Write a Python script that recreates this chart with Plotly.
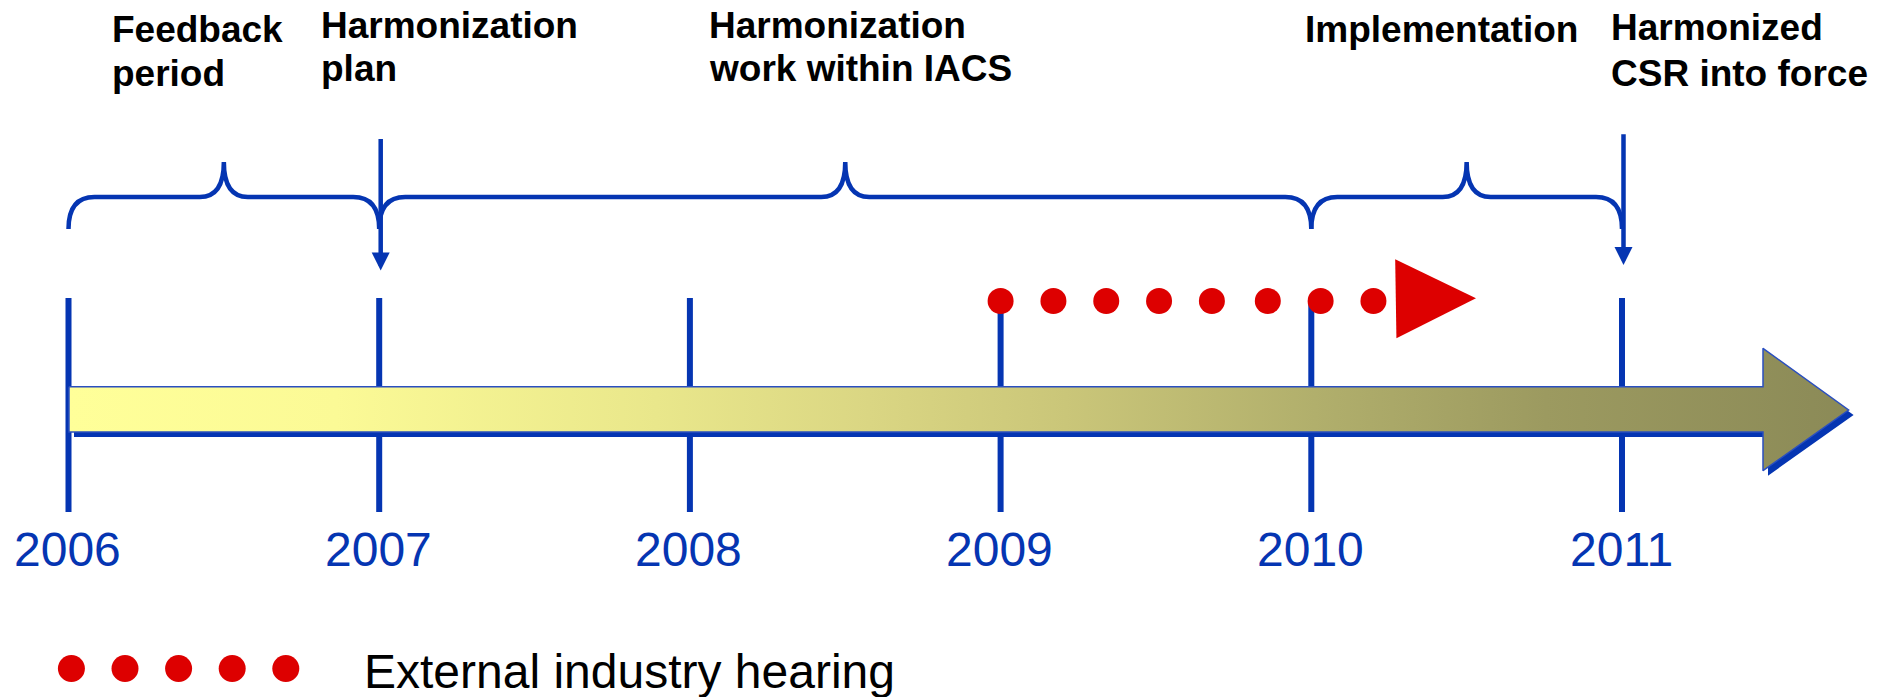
import plotly.graph_objects as go

# ---------------- data ----------------
years = [2006, 2007, 2008, 2009, 2010, 2011]
year_labels = ["2006", "2007", "2008", "2009", "2010", "2011"]

phase_start = [2006, 2007, 2010]
phase_end = [2007, 2010, 2011]

milestones = [2007, 2011]

hearing_x = [2009.00, 2009.17, 2009.34, 2009.51, 2009.68, 2009.86, 2010.03, 2010.20]
hearing_arrow_x = [2010.27, 2010.53]

legend_label = "External industry hearing"

heading_lines = ["Feedback", "period",
                 "Harmonization", "plan",
                 "Harmonization", "work within IACS",
                 "Implementation",
                 "Harmonized", "CSR into force"]

# ---------------- layout constants ----------------
W, H = 1885, 697
OFF = 8           # page body margin that shifts the figure
X2006 = 68.5      # screen pixel x of year 2006
PPY = 310.7       # pixels per year


def px2yr(px):
    return 2006 + (px - X2006) / PPY


BLUE = "#0535b2"
RED = "#dd0000"
FONT = "Liberation Sans, Arial, sans-serif"

fig = go.Figure()

# tick lines
tx, ty = [], []
for yv in years:
    tx += [yv, yv, None]
    ty += [298, 512, None]
fig.add_trace(go.Scatter(x=tx, y=ty, mode="lines",
                         line=dict(color=BLUE, width=6), hoverinfo="skip"))

# main arrow (shadow + gradient body)
a_left = px2yr(69)
a_head = px2yr(1763)
a_tip = px2yr(1848.6)
ax_ = [a_left, a_head, a_head, a_tip, a_head, a_head, a_left, a_left]
ay_ = [386.7, 386.7, 348.3, 410, 470.7, 432.0, 432.0, 386.7]
dx = 5 / PPY
fig.add_trace(go.Scatter(x=[v + dx for v in ax_], y=[v + 5 for v in ay_],
                         mode="lines", fill="toself", fillcolor=BLUE,
                         line=dict(color=BLUE, width=0), hoverinfo="skip"))
fig.add_trace(go.Scatter(
    x=ax_, y=ay_, mode="lines", fill="toself",
    fillgradient=dict(type="horizontal", colorscale=[
        [0.0, "#ffff99"], [0.15, "#fbfa96"], [0.33, "#e9e78b"],
        [0.45, "#dad683"], [0.56, "#cac679"], [0.70, "#b1af6c"],
        [0.83, "#9c9a60"], [1.0, "#8b8a57"]]),
    line=dict(color="#2a4fc0", width=1.5), hoverinfo="skip"))

# hearing dots and arrow head
fig.add_trace(go.Scatter(x=hearing_x, y=[301] * len(hearing_x), mode="markers",
                         marker=dict(color=RED, size=26, line=dict(width=0)),
                         hoverinfo="skip"))
t0, t1 = hearing_arrow_x
fig.add_trace(go.Scatter(x=[t0, t1, t0 + 0.004, t0], y=[259.3, 298.3, 338.3, 259.3],
                         mode="lines", fill="toself", fillcolor=RED,
                         line=dict(color=RED, width=0), hoverinfo="skip"))

# legend dots
leg_x = [px2yr(p) for p in (71.4, 125.0, 178.6, 232.2, 285.8)]
fig.add_trace(go.Scatter(x=leg_x, y=[668.5] * 5, mode="markers",
                         marker=dict(color=RED, size=27, line=dict(width=0)),
                         hoverinfo="skip"))

# braces
rx = 26 / PPY
cw = 24 / PPY
shapes = []
for s, e in zip(phase_start, phase_end):
    c = (s + e) / 2
    path = (f"M {s},229 Q {s},197 {s + rx},197 L {c - cw},197 "
            f"Q {c},197 {c},162 Q {c},197 {c + cw},197 "
            f"L {e - rx},197 Q {e},197 {e},229")
    shapes.append(dict(type="path", path=path, xref="x", yref="y",
                       line=dict(color=BLUE, width=4.5)))

annotations = []
# milestone arrows
for m, top, tip in zip(milestones, [137.5, 132.7], [270.5, 265.0]):
    annotations.append(dict(x=m + 1.5 / PPY, y=tip, ax=m + 1.5 / PPY, ay=top,
                            xref="x", yref="y", axref="x", ayref="y",
                            text="", showarrow=True, arrowhead=2,
                            arrowsize=0.8, arrowwidth=4.5, arrowcolor=BLUE,
                            standoff=0))

# year labels
for yv, lab in zip(years, year_labels):
    annotations.append(dict(x=yv - 1 / PPY, y=549, xref="x", yref="y", text=lab,
                            showarrow=False, xanchor="center", yanchor="middle",
                            font=dict(family=FONT, size=48, color=BLUE)))

# headings (left px, cap-centre y px)
head_pos = [(110, 29), (110, 73),
            (319, 25), (319, 68.5),
            (707, 25), (707, 68),
            (1303, 29),
            (1609, 27), (1609, 73)]
for txt, (px, py) in zip(heading_lines, head_pos):
    annotations.append(dict(x=px2yr(px), y=py, xref="x", yref="y", text=txt,
                            showarrow=False, xanchor="left", yanchor="middle",
                            font=dict(family=FONT, size=37, color="black",
                                      weight="bold")))

# legend label
annotations.append(dict(x=px2yr(362), y=671.5, xref="x", yref="y", text=legend_label,
                        showarrow=False, xanchor="left", yanchor="middle",
                        font=dict(family=FONT, size=48, color="black")))

fig.update_layout(
    width=W, height=H,
    margin=dict(l=0, r=0, t=0, b=0),
    paper_bgcolor="white", plot_bgcolor="white",
    showlegend=False,
    xaxis=dict(range=[px2yr(OFF), px2yr(W + OFF)], visible=False, fixedrange=True),
    yaxis=dict(range=[H + OFF, OFF], visible=False, fixedrange=True),
    shapes=shapes, annotations=annotations,
)

fig.write_html("out.html")
